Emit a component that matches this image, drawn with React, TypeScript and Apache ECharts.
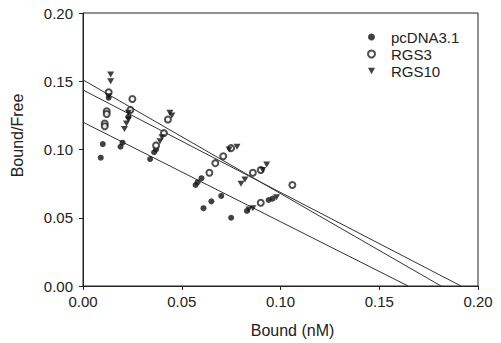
import React, { useEffect, useRef } from "react";
import * as echarts from "echarts";

const xTicks = [0, 0.05, 0.1, 0.15, 0.2];
const yTicks = [0, 0.05, 0.1, 0.15, 0.2];

const pcdnaPoints: number[][] = [
  [0.009, 0.094], [0.010, 0.104], [0.019, 0.102], [0.020, 0.105], [0.013, 0.138],
  [0.023, 0.124], [0.034, 0.093], [0.036, 0.098], [0.037, 0.100], [0.057, 0.074],
  [0.058, 0.076], [0.060, 0.079], [0.061, 0.057], [0.065, 0.062], [0.070, 0.066],
  [0.075, 0.050], [0.083, 0.055], [0.094, 0.063], [0.096, 0.064],
];

const rgs3Points: number[][] = [
  [0.013, 0.142], [0.012, 0.128], [0.012, 0.126], [0.011, 0.119], [0.011, 0.117],
  [0.025, 0.137], [0.024, 0.129], [0.043, 0.122], [0.041, 0.112], [0.037, 0.103],
  [0.064, 0.083], [0.067, 0.090], [0.071, 0.095], [0.075, 0.101], [0.086, 0.083],
  [0.090, 0.085], [0.090, 0.061], [0.106, 0.074],
];

const rgs10Points: number[][] = [
  [0.014, 0.155], [0.014, 0.150], [0.013, 0.139], [0.023, 0.127], [0.023, 0.122],
  [0.022, 0.119], [0.021, 0.115], [0.040, 0.109], [0.039, 0.106], [0.044, 0.127],
  [0.045, 0.125], [0.074, 0.100], [0.078, 0.102], [0.080, 0.075], [0.082, 0.078],
  [0.091, 0.085], [0.093, 0.089], [0.084, 0.056], [0.086, 0.057], [0.098, 0.065],
];

const pcdnaFit: number[][] = [[0, 0.120], [0.1646, 0]];
const rgs3Fit: number[][] = [[0, 0.1436], [0.1914, 0]];
const rgs10Fit: number[][] = [[0, 0.151], [0.1813, 0]];

const seriesNames = ["pcDNA3.1", "RGS3", "RGS10"];

const INK = "#222";
const FONT = "'Liberation Sans', Arial, Helvetica, sans-serif";
const TRI = "path://M0,0 L10,0 L5,9 Z";

export default function App() {
  const ref = useRef<HTMLDivElement>(null);
  useEffect(() => {
    if (!ref.current) return;
    const chart = echarts.init(ref.current, undefined, { renderer: "svg" });
    const fitLine = (name: string, data: number[][]) => ({
      name,
      type: "line",
      data,
      symbol: "none",
      silent: true,
      lineStyle: { color: "#333", width: 1 },
      z: 1,
    });
    chart.setOption({
      animation: false,
      backgroundColor: "#fff",
      textStyle: { fontFamily: FONT },
      grid: {
        left: 83,
        right: 23,
        top: 13,
        bottom: 57,
        show: true,
        borderColor: INK,
        borderWidth: 1,
        backgroundColor: "transparent",
      },
      legend: {
        orient: "vertical",
        left: 362,
        top: 24,
        itemWidth: 7,
        itemHeight: 7,
        itemGap: 1,
        textStyle: {
          fontSize: 15,
          color: INK,
          fontFamily: FONT,
          lineHeight: 16,
          padding: [0, 0, 0, 11],
        },
        data: [
          { name: seriesNames[0], icon: "circle" },
          { name: seriesNames[1], icon: "emptyCircle" },
          { name: seriesNames[2], icon: TRI },
        ],
      },
      xAxis: {
        type: "value",
        min: xTicks[0],
        max: xTicks[xTicks.length - 1],
        interval: 0.05,
        name: "Bound (nM)",
        nameLocation: "middle",
        nameGap: 36,
        nameTextStyle: { fontSize: 16, color: INK, fontFamily: FONT, padding: [0, 0, 0, 24] },
        axisLine: { show: true, onZero: false, lineStyle: { color: INK, width: 1 } },
        axisTick: { show: true, inside: false, length: 4, lineStyle: { color: INK } },
        axisLabel: {
          fontSize: 15,
          color: INK,
          margin: 8,
          fontFamily: FONT,
          formatter: (v: number) => v.toFixed(2),
        },
        splitLine: { show: false },
      },
      yAxis: {
        type: "value",
        min: yTicks[0],
        max: yTicks[yTicks.length - 1],
        interval: 0.05,
        name: "Bound/Free",
        nameLocation: "middle",
        nameGap: 58,
        nameTextStyle: { fontSize: 16, color: INK, fontFamily: FONT, padding: [0, 0, 0, 28] },
        axisLine: { show: true, onZero: false, lineStyle: { color: INK, width: 1 } },
        axisTick: { show: true, inside: false, length: 4, lineStyle: { color: INK } },
        axisLabel: {
          fontSize: 15,
          color: INK,
          margin: 10,
          fontFamily: FONT,
          formatter: (v: number) => v.toFixed(2),
        },
        splitLine: { show: false },
      },
      series: [
        fitLine("fit-pcDNA3.1", pcdnaFit),
        fitLine("fit-RGS3", rgs3Fit),
        fitLine("fit-RGS10", rgs10Fit),
        {
          name: seriesNames[0],
          type: "scatter",
          data: pcdnaPoints,
          symbol: "circle",
          symbolSize: 6,
          itemStyle: { color: "#111" },
          z: 3,
        },
        {
          name: seriesNames[1],
          type: "scatter",
          data: rgs3Points,
          symbol: "emptyCircle",
          symbolSize: 6,
          itemStyle: { color: "#222", borderWidth: 1 },
          z: 3,
        },
        {
          name: seriesNames[2],
          type: "scatter",
          data: rgs10Points,
          symbol: TRI,
          symbolSize: [7, 6],
          itemStyle: { color: "#111" },
          z: 3,
        },
      ],
    });
    return () => chart.dispose();
  }, []);
  return (
    <div
      ref={ref}
      style={{ position: "fixed", left: 0, top: 0, width: 501, height: 343, background: "#fff" }}
    />
  );
}
